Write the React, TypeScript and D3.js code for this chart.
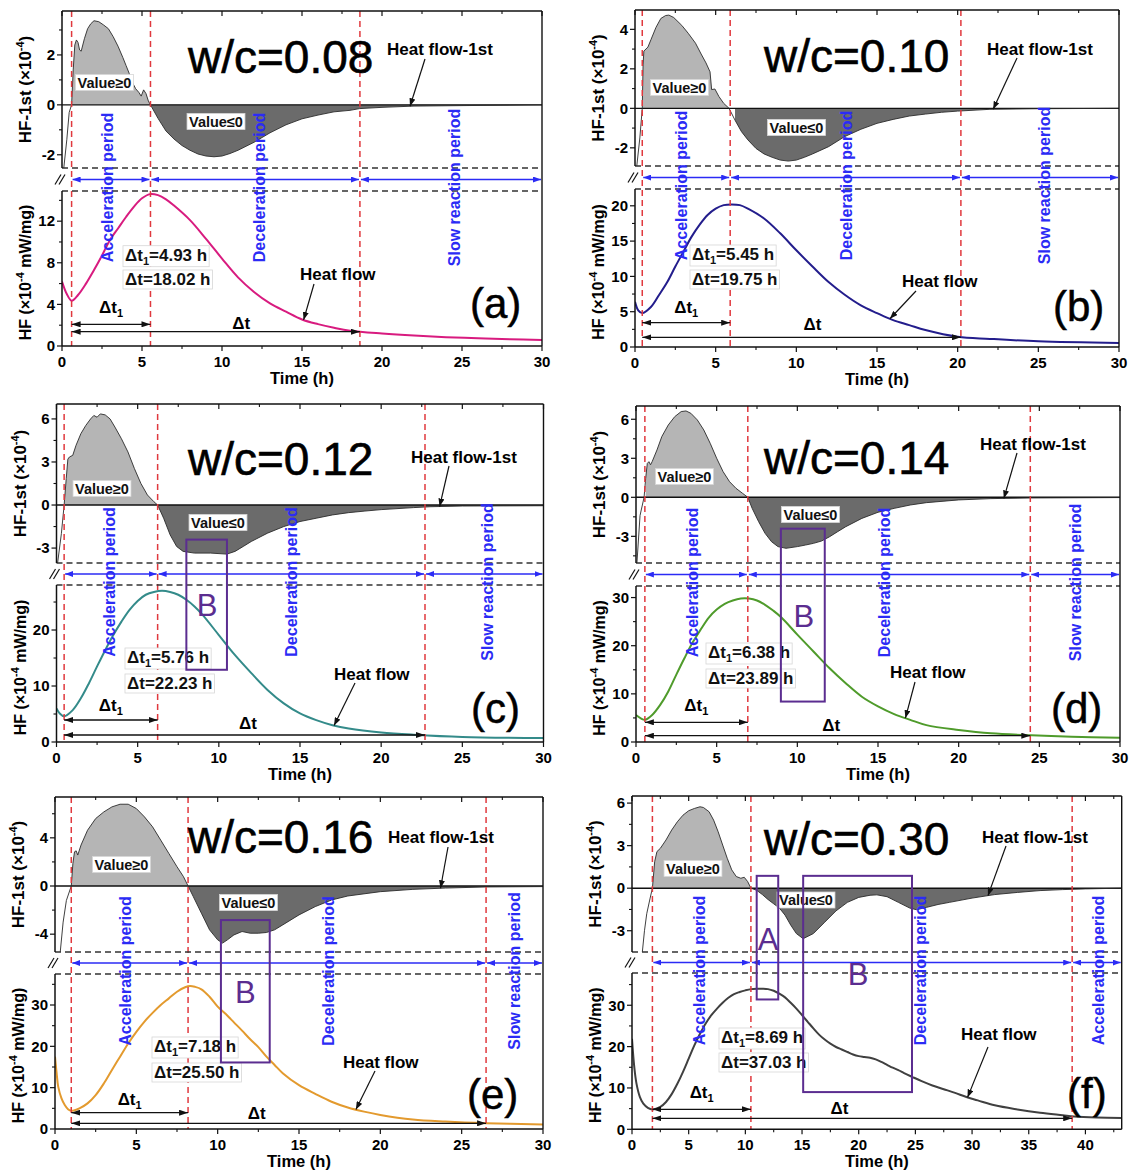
import React, { useLayoutEffect, useRef, useState } from "react";
import * as d3 from "d3";

const FONT = "'Liberation Sans', Arial, Helvetica, sans-serif";

// ---------------- data ----------------
const wcLabels = ["w/c=0.08", "w/c=0.10", "w/c=0.12", "w/c=0.14", "w/c=0.16", "w/c=0.30"];
const panelTags = ["(a)", "(b)", "(c)", "(d)", "(e)", "(f)"];
const startTimes = [0.6, 0.45, 0.47, 0.55, 1.0, 1.8];
const dt1Values = [4.93, 5.45, 5.76, 6.38, 7.18, 8.69];
const dtValues = [18.02, 19.75, 22.23, 23.89, 25.5, 37.03];
const periodsStd = ["Acceleration period", "Deceleration period", "Slow reaction period"];
const periodsF = ["Acceleration period", "Deceleration period", "Acceleration period"];

const xMajor30 = [0, 5, 10, 15, 20, 25, 30];
const xMinor30 = [2.5, 7.5, 12.5, 17.5, 22.5, 27.5];
const xMajor43 = [0, 5, 10, 15, 20, 25, 30, 35, 40];
const xMinor43 = [2.5, 7.5, 12.5, 17.5, 22.5, 27.5, 32.5, 37.5, 42.5];

// (a) w/c = 0.08
const hfTimeA = [0, 0.3, 0.6, 1, 1.5, 2, 2.5, 3, 3.5, 4, 4.5, 5, 5.5, 6, 6.5, 7, 8, 9, 10, 11, 12, 13, 14, 15, 16, 17, 18, 20, 22, 24, 26, 28, 30];
const hfA = [6.2, 5.0, 4.35, 4.9, 6.0, 7.3, 8.7, 10.2, 11.3, 12.4, 13.4, 14.2, 14.6, 14.5, 14.1, 13.5, 12.1, 10.3, 8.4, 6.6, 5.2, 4.1, 3.3, 2.55, 2.1, 1.75, 1.47, 1.2, 1.0, 0.85, 0.75, 0.65, 0.58];
const d1TimeA = [0.1, 0.3, 0.45, 0.6, 0.7, 0.8, 0.9, 1.0, 1.1, 1.2, 1.4, 1.6, 1.8, 2.0, 2.3, 2.6, 2.9, 3.2, 3.5, 3.8, 4.0, 4.2, 4.4, 4.6, 4.8, 4.95, 5.1, 5.25, 5.4, 5.53, 6, 6.5, 7, 7.5, 8, 8.5, 9, 9.5, 10, 10.5, 11, 12, 13, 14, 15, 16, 17, 18, 18.6, 20, 22, 25, 30];
const d1A = [-2.6, -1.4, -0.3, 0, 1.4, 2.4, 2.6, 2.5, 2.2, 2.15, 2.65, 3.05, 3.25, 3.37, 3.33, 3.2, 3.05, 2.73, 2.35, 1.9, 1.58, 1.26, 0.9, 0.65, 0.5, 0.35, 0.6, 0.45, 0.15, 0, -0.54, -1.05, -1.37, -1.63, -1.82, -1.97, -2.05, -2.08, -2.05, -1.95, -1.82, -1.5, -1.12, -0.8, -0.56, -0.41, -0.28, -0.22, -0.15, -0.1, -0.05, -0.03, 0];

// (b) w/c = 0.10
const hfTimeB = [0, 0.2, 0.45, 1, 1.5, 2, 2.5, 3, 3.5, 4, 4.5, 5, 5.5, 6, 6.5, 7, 8, 9, 10, 11, 12, 13, 14, 15, 16, 17, 18, 20, 22, 25, 30];
const hfB = [6.4, 5.2, 4.8, 5.7, 7.4, 9.2, 11.4, 13.5, 15.6, 17.3, 18.7, 19.6, 20.1, 20.2, 20.1, 19.6, 18.2, 16.1, 13.7, 11.4, 9.2, 7.4, 5.9, 4.8, 3.8, 3.1, 2.4, 1.45, 1.15, 0.8, 0.55];
const d1TimeB = [0.1, 0.3, 0.45, 0.5, 0.55, 0.8, 1.0, 1.3, 1.6, 1.9, 2.1, 2.4, 2.9, 3.3, 3.75, 4.1, 4.4, 4.65, 4.75, 4.95, 5.2, 5.5, 5.83, 6.2, 6.6, 7, 7.5, 8, 8.5, 9, 9.5, 10, 10.5, 11, 12, 13, 14, 15, 16, 17, 18, 19, 20, 22, 25, 30];
const d1B = [-3.0, -1.5, 0, 2.2, 2.9, 3.1, 3.5, 4.1, 4.55, 4.7, 4.72, 4.6, 4.2, 3.8, 3.3, 2.75, 2.3, 1.85, 0.95, 0.98, 0.6, 0.25, 0, -0.6, -1.18, -1.6, -2.03, -2.31, -2.48, -2.62, -2.67, -2.62, -2.48, -2.31, -1.94, -1.43, -1.06, -0.76, -0.56, -0.39, -0.29, -0.2, -0.14, -0.05, -0.02, 0];

// (c) w/c = 0.12
const hfTimeC = [0, 0.2, 0.47, 1, 1.5, 2, 2.5, 3, 3.5, 4, 4.5, 5, 5.5, 6, 6.5, 7, 7.5, 8, 8.5, 9, 10, 11, 12, 13, 14, 15, 16, 17, 18, 20, 22, 25, 30];
const hfC = [6.0, 5.1, 4.6, 5.7, 7.8, 10.5, 13.5, 16.4, 19.1, 21.5, 23.6, 25.2, 26.3, 26.8, 27.0, 26.8, 26.3, 25.4, 24.2, 22.7, 19.1, 15.5, 12.3, 9.3, 6.9, 5.1, 3.9, 3.0, 2.4, 1.7, 1.3, 0.9, 0.7];
const d1TimeC = [0.05, 0.3, 0.47, 0.6, 0.7, 0.8, 1.0, 1.2, 1.5, 1.8, 2.1, 2.3, 2.5, 2.7, 3.0, 3.3, 3.6, 4.0, 4.4, 4.8, 5.2, 5.6, 6.0, 6.23, 6.6, 7.0, 7.4, 7.8, 8.5, 9.5, 10.5, 11, 11.5, 12, 13, 14, 15, 16, 17, 18, 19, 20, 22, 23, 25, 30];
const d1C = [-4.2, -2, 0, 1.85, 3.2, 3.35, 3.46, 4.15, 4.97, 5.54, 6.0, 6.24, 6.12, 6.35, 6.28, 6.0, 5.43, 4.62, 3.7, 2.54, 1.5, 0.7, 0.23, 0, -0.92, -2.08, -2.89, -3.23, -3.35, -3.35, -3.42, -3.23, -2.89, -2.54, -1.96, -1.5, -1.15, -0.92, -0.69, -0.53, -0.42, -0.32, -0.18, -0.12, -0.07, -0.05];

// (d) w/c = 0.14
const hfTimeD = [0, 0.3, 0.55, 1, 1.5, 2, 2.5, 3, 3.5, 4, 4.5, 5, 5.5, 6, 6.5, 7, 7.5, 8, 8.5, 9, 10, 11, 12, 13, 14, 15, 16, 17, 18, 20, 22, 24.5, 27, 30];
const hfD = [5.6, 4.9, 4.6, 5.6, 7.7, 10.5, 14.0, 17.4, 20.6, 23.3, 25.8, 27.5, 28.7, 29.4, 29.8, 29.8, 29.4, 28.5, 27.3, 25.9, 22.3, 18.8, 15.3, 12.2, 9.4, 7.4, 5.8, 4.6, 3.5, 2.5, 1.8, 1.4, 1.1, 0.9];
const d1TimeD = [0.05, 0.25, 0.5, 0.6, 0.7, 0.8, 0.9, 1.0, 1.3, 1.6, 2.0, 2.4, 2.8, 3.1, 3.4, 3.8, 4.2, 4.6, 5.0, 5.4, 5.8, 6.2, 6.6, 6.93, 7.2, 7.6, 8.0, 8.4, 8.8, 9.3, 10, 10.5, 11, 11.5, 12, 12.5, 13, 14, 15, 16, 17, 18, 20, 22, 24.5, 30];
const d1D = [-5.2, -1.4, 0, 1.46, 2.6, 2.74, 2.5, 2.74, 3.64, 4.67, 5.56, 6.2, 6.59, 6.64, 6.46, 5.95, 5.18, 4.15, 3.0, 1.97, 1.2, 0.69, 0.31, 0, -0.85, -1.87, -2.77, -3.41, -3.79, -3.92, -3.79, -3.67, -3.54, -3.36, -3.03, -2.64, -2.26, -1.62, -1.15, -0.85, -0.59, -0.41, -0.2, -0.1, -0.05, -0.02];

// (e) w/c = 0.16
const hfTimeE = [0, 0.1, 0.2, 0.4, 0.6, 0.8, 1.0, 1.5, 2, 2.5, 3, 3.5, 4, 4.5, 5, 5.5, 6, 6.5, 7, 7.5, 8, 8.3, 8.6, 9, 9.5, 10, 10.5, 11, 11.5, 12, 12.5, 13, 13.5, 14, 15, 16, 17, 18, 19, 20, 22, 24, 26.5, 30];
const hfE = [17.5, 13.5, 10.2, 7.4, 5.8, 4.8, 4.4, 5.0, 6.2, 8.2, 11.0, 14.3, 17.5, 20.7, 23.5, 26.0, 28.1, 30.0, 31.6, 33.2, 34.3, 34.6, 34.4, 33.8, 32.0, 29.6, 27.8, 25.8, 23.8, 21.7, 19.8, 17.5, 15.5, 13.5, 10.6, 8.5, 6.6, 5.2, 4.2, 3.4, 2.3, 1.8, 1.4, 1.1];
const d1TimeE = [0.3, 0.5, 0.7, 1.0, 1.1, 1.2, 1.3, 1.4, 1.6, 2.0, 2.5, 3.0, 3.5, 4.0, 4.5, 5.0, 5.5, 6.0, 6.5, 7.0, 7.5, 7.9, 8.18, 8.5, 9.0, 9.5, 10.0, 10.3, 10.6, 11, 11.5, 12, 12.5, 13, 13.5, 14, 15, 16, 17, 18, 20, 22, 24, 26.5, 30];
const d1E = [-5.8, -3.0, -1.2, 0, 1.88, 2.84, 2.92, 2.57, 3.4, 4.63, 5.6, 6.15, 6.57, 6.79, 6.79, 6.43, 5.74, 4.91, 3.81, 2.7, 1.6, 0.77, 0, -0.88, -2.26, -3.64, -4.47, -4.74, -4.47, -4.06, -3.78, -3.92, -3.92, -3.86, -3.64, -3.23, -2.4, -1.71, -1.16, -0.83, -0.47, -0.28, -0.17, -0.08, -0.05];

// (f) w/c = 0.30
const hfTimeF = [0, 0.2, 0.4, 0.7, 1.0, 1.4, 1.8, 2.5, 3, 3.5, 4, 4.5, 5, 5.5, 6, 6.5, 7, 7.5, 8, 8.5, 9, 9.5, 10, 10.5, 11, 11.5, 12, 12.5, 13, 13.5, 14, 14.5, 15, 15.5, 16, 16.5, 17, 17.5, 18, 18.5, 19, 19.5, 20, 20.5, 21, 21.5, 22, 22.5, 23, 23.5, 24, 24.7, 25.5, 26.5, 27.5, 28.5, 29.5, 30.5, 32, 34, 36, 38, 39, 41, 43.2];
const hfF = [21.9, 15.1, 11.0, 7.8, 6.2, 5.2, 4.8, 5.4, 6.6, 8.5, 11.0, 13.9, 17.1, 20.3, 23.1, 25.6, 27.6, 29.2, 30.6, 31.8, 32.7, 33.2, 33.6, 33.9, 34.0, 34.0, 33.9, 33.5, 32.8, 31.9, 30.6, 29.2, 27.6, 26.0, 24.4, 22.9, 21.7, 20.7, 19.9, 19.3, 18.7, 18.1, 17.7, 17.5, 17.3, 16.9, 16.3, 15.6, 14.9, 14.3, 13.6, 12.7, 11.7, 10.6, 9.7, 8.8, 7.8, 7.0, 5.8, 4.8, 4.0, 3.4, 3.1, 2.85, 2.75];
const d1TimeF = [0.9, 1.1, 1.3, 1.6, 1.8, 2.0, 2.2, 2.5, 3.0, 3.5, 4.0, 4.5, 5.0, 5.5, 6.0, 6.3, 6.8, 7.2, 7.6, 8.0, 8.4, 8.8, 9.2, 9.6, 9.9, 10.2, 10.49, 11, 11.5, 12, 12.5, 13, 13.5, 14, 14.5, 15.1, 16, 17, 18, 19, 20, 21, 21.6, 22.5, 23.5, 24.5, 25.1, 26, 27, 28, 30, 32, 34, 36, 38, 40, 43.2];
const d1F = [-4.6, -3.0, -1.8, -0.7, 0, 1.87, 2.58, 2.81, 3.4, 4.1, 4.68, 5.15, 5.46, 5.62, 5.74, 5.69, 5.39, 4.8, 3.98, 3.04, 2.11, 1.29, 0.82, 0.7, 0.77, 0.47, 0, -0.15, -0.45, -0.8, -1.1, -1.4, -1.9, -2.6, -3.2, -3.56, -3.2, -2.4, -1.6, -1.0, -0.65, -0.5, -0.47, -0.6, -1.0, -1.4, -1.52, -1.35, -1.15, -1.0, -0.7, -0.45, -0.3, -0.17, -0.1, -0.05, 0];

// ---------------- layout (positions / styles) ----------------
const layouts: any[] = [
  {
    x0: 62, x1: 542, xMax: 30, top: 11, upBot: 168, loTop: 191, bottom: 346,
    upDom: [-2.53, 3.76], loDom: [0, 14.9],
    upMajor: [-2, 0, 2], upMinor: [-1, 1, 3], loMajor: [0, 4, 8, 12], loMinor: [2, 6, 10, 14],
    color: "#d81b7f",
    wc: [188, 73], tag: [470, 318],
    hf1Label: [387, 55], hf1From: [425, 59], hf1TipT: 21.75,
    hfLabel: [300, 280], hfFrom: [314, 284], hfTipT: 15.1,
    vPos: [104.5, 82.5], vNeg: [216, 121.5],
    dtBox: [125, 260.7, 285],
    dt1Y: 324.3, dtY: 331.7, dt1LabelY: 313, dtLabelT: 11.2, dtLabelY: 329,
    periodT: [2.8, 12.3, 24.5], boxes: [],
  },
  {
    x0: 635, x1: 1119, xMax: 30, top: 10, upBot: 166, loTop: 189, bottom: 347,
    upDom: [-2.92, 4.98], loDom: [0, 22.38],
    upMajor: [-2, 0, 2, 4], upMinor: [-1, 1, 3], loMajor: [0, 5, 10, 15, 20], loMinor: [2.5, 7.5, 12.5, 17.5],
    color: "#231d8c",
    wc: [764, 72], tag: [1053, 321],
    hf1Label: [987, 55], hf1From: [1017, 58], hf1TipT: 22.2,
    hfLabel: [902, 287], hfFrom: [916, 291], hfTipT: 15.8,
    vPos: [679.5, 87.5], vNeg: [796.5, 127.5],
    dtBox: [692, 260, 285],
    dt1Y: 322.7, dtY: 337.3, dt1LabelY: 313, dtLabelT: 11.0, dtLabelY: 330,
    periodT: [2.85, 13.1, 25.35], boxes: [],
  },
  {
    x0: 56.5, x1: 543.5, xMax: 30, top: 404, upBot: 563, loTop: 585, bottom: 742,
    upDom: [-4.04, 7.04], loDom: [0, 28.04],
    upMajor: [-3, 0, 3, 6], upMinor: [-1.5, 1.5, 4.5], loMajor: [0, 10, 20], loMinor: [5, 15, 25],
    color: "#348b8a",
    wc: [188, 475], tag: [471, 723],
    hf1Label: [411, 463], hf1From: [449, 466], hf1TipT: 23.6,
    hfLabel: [334, 680], hfFrom: [355, 683], hfTipT: 17.1,
    vPos: [102, 488.5], vNeg: [218, 522.5],
    dtBox: [127, 663, 689],
    dt1Y: 720, dtY: 735, dt1LabelY: 711, dtLabelT: 11.8, dtLabelY: 729,
    periodT: [3.23, 14.45, 26.55],
    boxes: [{ label: "B", t0: 8.0, t1: 10.5, top: -2.41, bot: 12.9, labelT: 9.27, labelY: 616 }],
  },
  {
    x0: 636, x1: 1120, xMax: 30, top: 406, upBot: 563, loTop: 586, bottom: 742,
    upDom: [-5.05, 7.02], loDom: [0, 32.4],
    upMajor: [-3, 0, 3, 6], upMinor: [-4.5, -1.5, 1.5, 4.5], loMajor: [0, 10, 20, 30], loMinor: [5, 15, 25],
    color: "#4f9b2b",
    wc: [764, 474], tag: [1051, 723],
    hf1Label: [980, 450], hf1From: [1017, 453], hf1TipT: 22.8,
    hfLabel: [890, 678], hfFrom: [915, 682], hfTipT: 16.7,
    vPos: [684.5, 476.5], vNeg: [810.5, 514.5],
    dtBox: [708, 658, 684],
    dt1Y: 722.3, dtY: 735.7, dt1LabelY: 711, dtLabelT: 12.1, dtLabelY: 731,
    periodT: [3.47, 15.4, 27.2],
    boxes: [{ label: "B", t0: 8.98, t1: 11.7, top: -2.41, bot: 8.4, labelT: 10.4, labelY: 627 }],
  },
  {
    x0: 55, x1: 543, xMax: 30, top: 797, upBot: 952, loTop: 974, bottom: 1129,
    upDom: [-5.48, 7.39], loDom: [0, 37.5],
    upMajor: [-4, 0, 4], upMinor: [-2, 2, 6], loMajor: [0, 10, 20, 30], loMinor: [5, 15, 25, 35],
    color: "#e39a2e",
    wc: [188, 853], tag: [467, 1109],
    hf1Label: [388, 843], hf1From: [448, 847], hf1TipT: 23.7,
    hfLabel: [343, 1068], hfFrom: [375, 1071], hfTipT: 18.5,
    vPos: [121.5, 864.5], vNeg: [248.5, 902.5],
    dtBox: [154, 1052, 1078],
    dt1Y: 1112.7, dtY: 1123.3, dt1LabelY: 1105, dtLabelT: 12.4, dtLabelY: 1119,
    periodT: [4.3, 16.8, 28.2],
    boxes: [{ label: "B", t0: 10.2, t1: 13.2, top: -2.83, bot: 16.1, labelT: 11.7, labelY: 1003 }],
  },
  {
    x0: 632, x1: 1121.7, xMax: 43.2, top: 796, upBot: 952, loTop: 973, bottom: 1129.3,
    upDom: [-4.5, 6.5], loDom: [0, 37.8],
    upMajor: [-3, 0, 3, 6], upMinor: [-1.5, 1.5, 4.5], loMajor: [0, 10, 20, 30], loMinor: [5, 15, 25, 35],
    color: "#404040",
    wc: [764, 855], tag: [1067, 1108],
    hf1Label: [982, 843], hf1From: [1006, 846], hf1TipT: 31.4,
    hfLabel: [961, 1040], hfFrom: [988, 1047], hfTipT: 29.6,
    vPos: [693, 868.5], vNeg: [806, 900],
    dtBox: [721, 1043, 1068],
    dt1Y: 1109.3, dtY: 1118.3, dt1LabelY: 1098, dtLabelT: 18.3, dtLabelY: 1114,
    periodT: [5.9, 25.4, 41.1],
    boxes: [
      { label: "A", t0: 11.0, t1: 12.9, top: 0.87, bot: 31.4, labelT: 12.0, labelY: 950 },
      { label: "B", t0: 15.1, t1: 24.7, top: 0.87, bot: 9.0, labelT: 19.95, labelY: 985 },
    ],
  },
];

const series = [
  { hft: hfTimeA, hfv: hfA, d1t: d1TimeA, d1v: d1A },
  { hft: hfTimeB, hfv: hfB, d1t: d1TimeB, d1v: d1B },
  { hft: hfTimeC, hfv: hfC, d1t: d1TimeC, d1v: d1C },
  { hft: hfTimeD, hfv: hfD, d1t: d1TimeD, d1v: d1D },
  { hft: hfTimeE, hfv: hfE, d1t: d1TimeE, d1v: d1E },
  { hft: hfTimeF, hfv: hfF, d1t: d1TimeF, d1v: d1F },
];

const BLUE = "#2b2bf5";
const RED = "#e0393e";
const PURPLE = "#5b2d90";

function interp(ts: number[], vs: number[], t: number) {
  const i = d3.bisectRight(ts, t);
  if (i <= 0) return vs[0];
  if (i >= ts.length) return vs[vs.length - 1];
  const a = ts[i - 1], b = ts[i];
  return vs[i - 1] + ((vs[i] - vs[i - 1]) * (t - a)) / (b - a);
}

function BoxedText(props: any) {
  const { x, y, size, anchor, pad = 2, children } = props;
  const ref = useRef<SVGTextElement>(null);
  const [bb, setBb] = useState<any>(null);
  useLayoutEffect(() => {
    if (ref.current) {
      const b = ref.current.getBBox();
      setBb({ x: b.x, y: b.y, w: b.width, h: b.height });
    }
  }, []);
  return (
    <g>
      {bb && (
        <rect x={bb.x - pad} y={bb.y} width={bb.w + pad * 2} height={bb.h}
          fill="white" stroke="#d6d6d6" strokeWidth={0.8} />
      )}
      <text ref={ref} x={x} y={y} fontSize={size} fontWeight="bold" textAnchor={anchor || "start"} fill="#111">
        {children}
      </text>
    </g>
  );
}

function Panel({ idx }: { idx: number }) {
  const p = layouts[idx];
  const s = series[idx];
  const t0 = startTimes[idx];
  const t1 = t0 + dt1Values[idx];
  const t2 = t0 + dtValues[idx];
  const x = d3.scaleLinear().domain([0, p.xMax]).range([p.x0, p.x1]);
  const yU = d3.scaleLinear().domain(p.upDom).range([p.upBot, p.top]);
  const yL = d3.scaleLinear().domain(p.loDom).range([p.bottom, p.loTop]);
  const xMajor = p.xMax > 35 ? xMajor43 : xMajor30;
  const xMinor = p.xMax > 35 ? xMinor43 : xMinor30;
  const midY = (p.upBot + p.loTop) / 2;

  const d1 = s.d1t.map((t: number, i: number) => [t, s.d1v[i]] as [number, number]);
  const hf = s.hft.map((t: number, i: number) => [t, s.hfv[i]] as [number, number]);

  const lineU = d3.line<[number, number]>().x((d) => x(d[0])).y((d) => yU(d[1]));
  const posArea = d3.area<[number, number]>().x((d) => x(d[0])).y0(yU(0)).y1((d) => yU(Math.max(0, d[1])));
  const negArea = d3.area<[number, number]>().x((d) => x(d[0])).y0(yU(0)).y1((d) => yU(Math.min(0, d[1])));
  const posData = d1.filter((d) => d[0] >= t0 - 0.02 && d[0] <= t1 + 0.02);
  const negData = d1.filter((d) => d[0] >= t1 - 0.02);
  const lineL = d3.line<[number, number]>().x((d) => x(d[0])).y((d) => yL(d[1])).curve(d3.curveCatmullRom.alpha(0.5));

  const clipU = `clipU${idx}`;
  const clipL = `clipL${idx}`;
  const periods = idx === 5 ? periodsF : periodsStd;
  const bounds = [t0, t1, t2, p.xMax];

  const hfTipY = yL(interp(s.hft, s.hfv, p.hfTipT));
  const hf1TipY = yU(interp(s.d1t, s.d1v, p.hf1TipT));

  const dtStr = dt1Values[idx].toFixed(2);
  const dtAllStr = dtValues[idx].toFixed(2);

  return (
    <g>
      <defs>
        <clipPath id={clipU}>
          <rect x={p.x0} y={p.top} width={p.x1 - p.x0} height={p.upBot - p.top} />
        </clipPath>
        <clipPath id={clipL}>
          <rect x={p.x0} y={p.loTop} width={p.x1 - p.x0} height={p.bottom - p.loTop} />
        </clipPath>
      </defs>

      {/* upper: first derivative */}
      <g clipPath={`url(#${clipU})`}>
        <path d={posArea(posData) || ""} fill="#b5b5b5" />
        <path d={negArea(negData) || ""} fill="#6b6b6b" />
        <line x1={p.x0} x2={p.x1} y1={yU(0)} y2={yU(0)} stroke="#111" strokeWidth={1.4} />
        <path d={lineU(d1) || ""} fill="none" stroke="#2a2a2a" strokeWidth={0.9} />
      </g>

      {/* lower: heat flow */}
      <g clipPath={`url(#${clipL})`}>
        <path d={lineL(hf) || ""} fill="none" stroke={p.color} strokeWidth={2} />
      </g>

      {/* red dashed markers */}
      {[t0, t1, t2].map((t, i) => (
        <line key={i} x1={x(t)} x2={x(t)} y1={p.top} y2={p.bottom} stroke={RED} strokeWidth={1.5} strokeDasharray="6,4" />
      ))}

      {/* black dashed break lines */}
      {[p.upBot, p.loTop].map((yy, i) => (
        <line key={i} x1={p.x0} x2={p.x1} y1={yy} y2={yy} stroke="#333" strokeWidth={1.4} strokeDasharray="6,4" />
      ))}

      {/* blue period arrows */}
      {[0, 1, 2].map((i) => (
        <line key={i} x1={x(bounds[i]) + 1} x2={x(bounds[i + 1]) - 1} y1={midY} y2={midY}
          stroke={BLUE} strokeWidth={1.3} markerStart="url(#arrBlue)" markerEnd="url(#arrBlue)" />
      ))}

      {/* frame & axes */}
      <line x1={p.x0} x2={p.x1} y1={p.top} y2={p.top} stroke="#111" strokeWidth={1.4} />
      <line x1={p.x1} x2={p.x1} y1={p.top} y2={p.bottom} stroke="#111" strokeWidth={1.4} />
      <line x1={p.x0} x2={p.x1} y1={p.bottom} y2={p.bottom} stroke="#111" strokeWidth={1.5} />
      <line x1={p.x0} x2={p.x0} y1={p.top} y2={p.upBot} stroke="#111" strokeWidth={1.5} />
      <line x1={p.x0} x2={p.x0} y1={p.loTop} y2={p.bottom} stroke="#111" strokeWidth={1.5} />
      {/* break mark */}
      <line x1={p.x0 - 7} x2={p.x0 - 1} y1={midY + 5} y2={midY - 5} stroke="#111" strokeWidth={1.2} />
      <line x1={p.x0 - 3} x2={p.x0 + 3} y1={midY + 5} y2={midY - 5} stroke="#111" strokeWidth={1.2} />

      {/* x ticks */}
      {xMajor.map((t) => (
        <g key={"xm" + t}>
          <line x1={x(t)} x2={x(t)} y1={p.bottom} y2={p.bottom + 5} stroke="#111" strokeWidth={1.2} />
          <line x1={x(t)} x2={x(t)} y1={p.top} y2={p.top + 5} stroke="#111" strokeWidth={1.2} />
          <text x={x(t)} y={p.bottom + 21} fontSize={15} fontWeight="bold" textAnchor="middle">{t}</text>
        </g>
      ))}
      {xMinor.map((t) => (
        <g key={"xn" + t}>
          <line x1={x(t)} x2={x(t)} y1={p.bottom} y2={p.bottom + 3} stroke="#111" strokeWidth={1.1} />
          <line x1={x(t)} x2={x(t)} y1={p.top} y2={p.top + 3} stroke="#111" strokeWidth={1.1} />
        </g>
      ))}
      <text x={(p.x0 + p.x1) / 2} y={p.bottom + 38} fontSize={16.5} fontWeight="bold" textAnchor="middle">Time (h)</text>

      {/* y ticks upper */}
      {p.upMajor.map((v: number) => (
        <g key={"um" + v}>
          <line x1={p.x0 - 5} x2={p.x0} y1={yU(v)} y2={yU(v)} stroke="#111" strokeWidth={1.2} />
          <text x={p.x0 - 7} y={yU(v)} dy="0.35em" fontSize={15} fontWeight="bold" textAnchor="end">{v}</text>
        </g>
      ))}
      {p.upMinor.map((v: number) => (
        <line key={"un" + v} x1={p.x0 - 3} x2={p.x0} y1={yU(v)} y2={yU(v)} stroke="#111" strokeWidth={1.1} />
      ))}
      {p.loMajor.map((v: number) => (
        <g key={"lm" + v}>
          <line x1={p.x0 - 5} x2={p.x0} y1={yL(v)} y2={yL(v)} stroke="#111" strokeWidth={1.2} />
          <text x={p.x0 - 7} y={yL(v)} dy="0.35em" fontSize={15} fontWeight="bold" textAnchor="end">{v}</text>
        </g>
      ))}
      {p.loMinor.map((v: number) => (
        <line key={"ln" + v} x1={p.x0 - 3} x2={p.x0} y1={yL(v)} y2={yL(v)} stroke="#111" strokeWidth={1.1} />
      ))}

      {/* y titles */}
      <text transform={`translate(${p.x0 - 31},${(p.top + p.upBot) / 2}) rotate(-90)`} fontSize={17} fontWeight="bold" textAnchor="middle">
        HF-1st (×10<tspan dy={-7} fontSize={11}>-4</tspan><tspan dy={7}>)</tspan>
      </text>
      <text transform={`translate(${p.x0 - 31},${(p.loTop + p.bottom) / 2 + 4}) rotate(-90)`} fontSize={16} fontWeight="bold" textAnchor="middle">
        HF (×10<tspan dy={-7} fontSize={11}>-4</tspan><tspan dy={7}> mW/mg)</tspan>
      </text>

      {/* Δt arrows */}
      <line x1={x(t0)} x2={x(t1)} y1={p.dt1Y} y2={p.dt1Y} stroke="#111" strokeWidth={1.3} markerStart="url(#arrBlack)" markerEnd="url(#arrBlack)" />
      <line x1={x(t0)} x2={x(t2)} y1={p.dtY} y2={p.dtY} stroke="#111" strokeWidth={1.3} markerStart="url(#arrBlack)" markerEnd="url(#arrBlack)" />
      <text x={(x(t0) + x(t1)) / 2} y={p.dt1LabelY} fontSize={17} fontWeight="bold" textAnchor="middle">
        Δt<tspan fontSize={11} dy={4}>1</tspan>
      </text>
      <text x={x(p.dtLabelT)} y={p.dtLabelY} fontSize={17} fontWeight="bold" textAnchor="middle">Δt</text>

      {/* value boxes */}
      <BoxedText x={p.vPos[0]} y={p.vPos[1] + 5} size={14.5} anchor="middle">Value≥0</BoxedText>
      <BoxedText x={p.vNeg[0]} y={p.vNeg[1] + 5} size={14.5} anchor="middle">Value≤0</BoxedText>

      {/* Δt value boxes */}
      <BoxedText x={p.dtBox[0]} y={p.dtBox[1]} size={17}>
        Δt<tspan fontSize={11} dy={4}>1</tspan><tspan dy={-4}>={dtStr} h</tspan>
      </BoxedText>
      <BoxedText x={p.dtBox[0]} y={p.dtBox[2]} size={17}>Δt={dtAllStr} h</BoxedText>

      {/* period labels */}
      {periods.map((name, i) => (
        <text key={i} transform={`translate(${x(p.periodT[i]) + 6},${midY + 8}) rotate(-90)`}
          fontSize={16} fontWeight="bold" fill={BLUE} textAnchor="middle">{name}</text>
      ))}

      {/* annotation boxes */}
      {p.boxes.map((b: any, i: number) => (
        <g key={i}>
          <rect x={x(b.t0)} y={yU(b.top)} width={x(b.t1) - x(b.t0)} height={yL(b.bot) - yU(b.top)}
            fill="none" stroke={PURPLE} strokeWidth={2} />
          <text x={x(b.labelT)} y={b.labelY} fontSize={31} fill={PURPLE} textAnchor="middle">{b.label}</text>
        </g>
      ))}

      {/* title texts */}
      <text x={p.wc[0]} y={p.wc[1]} fontSize={46} fill="#000" stroke="#000" strokeWidth={0.6}>{wcLabels[idx]}</text>
      <text x={p.tag[0]} y={p.tag[1]} fontSize={42} fill="#000" stroke="#000" strokeWidth={0.5}>{panelTags[idx]}</text>

      {/* Heat flow-1st annotation */}
      <text x={p.hf1Label[0]} y={p.hf1Label[1]} fontSize={17} fontWeight="bold">Heat flow-1st</text>
      <line x1={p.hf1From[0]} y1={p.hf1From[1]} x2={x(p.hf1TipT)} y2={hf1TipY} stroke="#111" strokeWidth={1.2} markerEnd="url(#arrThin)" />
      {/* Heat flow annotation */}
      <text x={p.hfLabel[0]} y={p.hfLabel[1]} fontSize={17} fontWeight="bold">Heat flow</text>
      <line x1={p.hfFrom[0]} y1={p.hfFrom[1]} x2={x(p.hfTipT)} y2={hfTipY} stroke="#111" strokeWidth={1.2} markerEnd="url(#arrThin)" />
    </g>
  );
}

export default function App() {
  return (
    <svg width={1133} height={1174} viewBox="0 0 1133 1174"
      style={{ position: "absolute", left: 0, top: 0, background: "#fff", fontFamily: FONT }}>
      <defs>
        <marker id="arrBlue" viewBox="0 0 8 6" refX={8} refY={3} markerWidth={8} markerHeight={6}
          markerUnits="userSpaceOnUse" orient="auto-start-reverse">
          <path d="M0,0 L8,3 L0,6 z" fill={BLUE} />
        </marker>
        <marker id="arrBlack" viewBox="0 0 9 6" refX={9} refY={3} markerWidth={9} markerHeight={6}
          markerUnits="userSpaceOnUse" orient="auto-start-reverse">
          <path d="M0,0 L9,3 L0,6 z" fill="#111" />
        </marker>
        <marker id="arrThin" viewBox="0 0 8 6" refX={8} refY={3} markerWidth={8} markerHeight={6}
          markerUnits="userSpaceOnUse" orient="auto">
          <path d="M0,0 L8,3 L0,6 z" fill="#111" />
        </marker>
      </defs>
      <rect x={0} y={0} width={1133} height={1174} fill="#fff" />
      {layouts.map((_, i) => (
        <Panel key={i} idx={i} />
      ))}
    </svg>
  );
}
